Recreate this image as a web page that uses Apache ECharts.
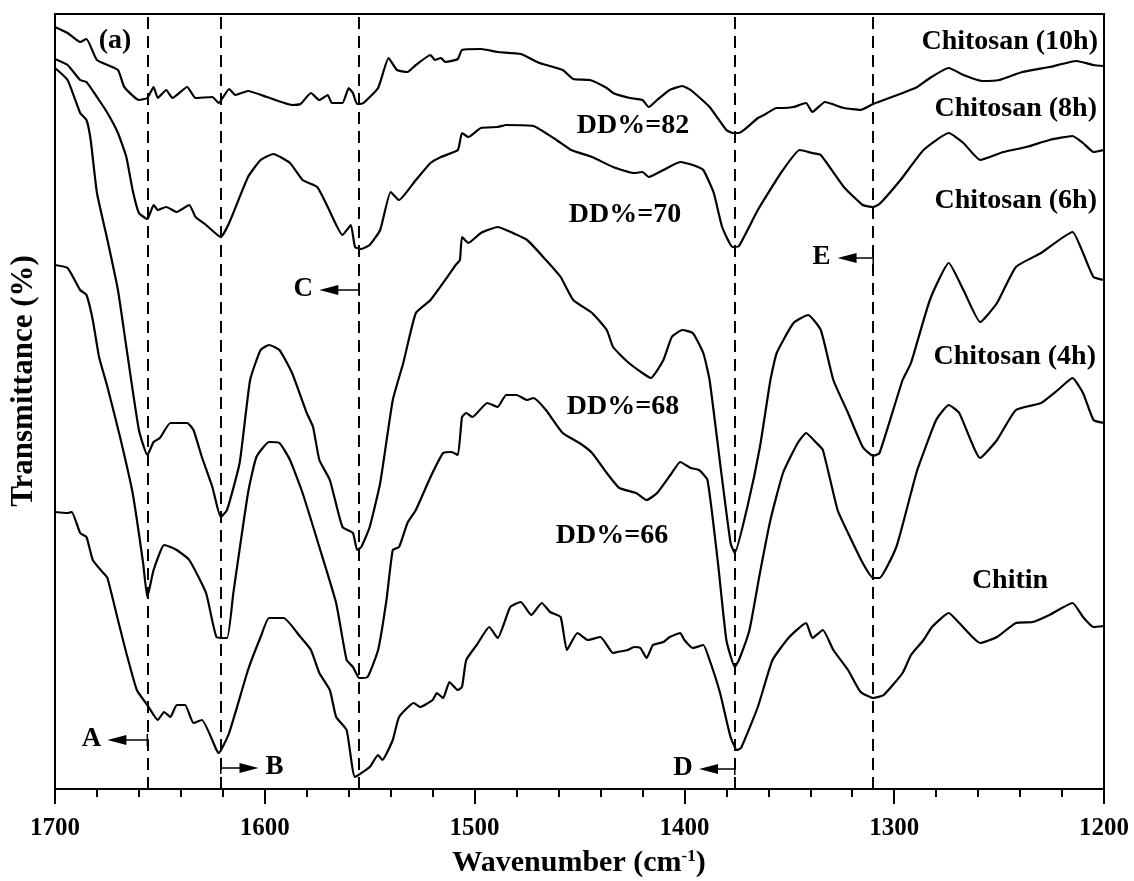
<!DOCTYPE html>
<html>
<head>
<meta charset="utf-8">
<script src="https://cdn.jsdelivr.net/npm/echarts@6/dist/echarts.min.js"></script>
<style>
  html, body { margin: 0; padding: 0; background: #fff; }
  #chart { width: 1134px; height: 881px; }
</style>
</head>
<body>
<div id="chart"></div>
<script>
// spectra: [wavenumber (cm-1), transmittance (a.u., offset)]
const chitosan10h = [[1700,762],[1694,756],[1688,747],[1685,750],[1680,729],[1670,719],[1667,702],[1660,689],[1656,691],[1653,702],[1651,691],[1647,699],[1644,691],[1637,702],[1633,691],[1625,692],[1622,686],[1617,700],[1614,694],[1608,698],[1599,692],[1587,684],[1583,685],[1578,696],[1574,689],[1570,694],[1568,686],[1563,686],[1560,701],[1558,696],[1556,685],[1553,686],[1546,701],[1541,731],[1537,719],[1532,717],[1528,724],[1521,734],[1519,729],[1516,731],[1514,727],[1508,730],[1506,739],[1497,740],[1489,737],[1478,735],[1469,726],[1458,719],[1453,710],[1445,709],[1437,701],[1434,696],[1426,691],[1420,689],[1417,682],[1413,689],[1407,699],[1401,703],[1397,699],[1388,682],[1380,659],[1377,656],[1374,656],[1365,671],[1362,674],[1356,681],[1353,681],[1348,682],[1342,686],[1339,677],[1333,687],[1324,681],[1316,679],[1310,685],[1301,692],[1289,702],[1283,711],[1274,721],[1267,714],[1258,708],[1250,709],[1239,717],[1226,722],[1213,728],[1205,724],[1200,723]]

const chitosan8h = [[1700,730],[1694,724],[1688,709],[1685,707],[1680,692],[1675,676],[1670,656],[1666,632],[1663,599],[1660,576],[1656,570],[1653,584],[1651,579],[1647,582],[1642,577],[1636,584],[1633,572],[1628,564],[1621,552],[1617,566],[1608,612],[1602,629],[1596,635],[1588,626],[1582,609],[1575,602],[1570,582],[1563,554],[1559,564],[1557,542],[1554,540],[1550,544],[1545,559],[1540,597],[1536,589],[1528,609],[1521,626],[1516,632],[1508,639],[1506,656],[1503,652],[1497,661],[1489,662],[1485,664],[1472,663],[1461,649],[1454,639],[1444,632],[1434,622],[1424,616],[1420,617],[1417,612],[1410,619],[1402,627],[1396,624],[1391,619],[1386,596],[1382,562],[1377,542],[1374,543],[1365,579],[1354,616],[1345,639],[1339,636],[1335,634],[1324,602],[1315,584],[1310,582],[1307,585],[1297,609],[1286,639],[1274,656],[1267,646],[1259,629],[1248,637],[1237,642],[1226,649],[1215,653],[1210,646],[1205,637],[1200,639]]

const chitosan6h = [[1700,721],[1694,709],[1688,676],[1685,669],[1683,649],[1680,596],[1675,549],[1670,499],[1666,442],[1660,359],[1656,334],[1653,347],[1650,351],[1645,366],[1637,366],[1634,359],[1630,332],[1625,302],[1621,272],[1618,279],[1612,326],[1607,409],[1602,439],[1598,444],[1593,439],[1587,416],[1580,376],[1577,362],[1574,329],[1569,309],[1563,262],[1558,256],[1556,239],[1554,242],[1550,262],[1545,306],[1539,389],[1534,426],[1528,476],[1521,489],[1513,512],[1509,524],[1507,529],[1506,552],[1503,546],[1497,556],[1489,562],[1485,559],[1475,549],[1466,529],[1459,512],[1453,489],[1444,476],[1437,459],[1434,442],[1427,427],[1420,416],[1416,411],[1410,429],[1406,452],[1401,459],[1396,456],[1391,436],[1388,409],[1383,326],[1378,246],[1376,236],[1370,282],[1364,342],[1359,409],[1356,436],[1348,466],[1341,474],[1335,459],[1329,409],[1322,376],[1315,342],[1310,333],[1307,336],[1296,409],[1292,426],[1283,489],[1274,526],[1267,499],[1259,467],[1251,486],[1242,522],[1230,536],[1215,557],[1210,536],[1205,512],[1200,509]]

const chitosan4h = [[1700,524],[1694,521],[1688,499],[1685,494],[1682,469],[1679,432],[1675,402],[1669,352],[1663,296],[1658,226],[1656,192],[1653,219],[1648,244],[1645,242],[1642,239],[1636,229],[1628,196],[1623,152],[1618,151],[1615,196],[1608,296],[1604,332],[1598,347],[1593,346],[1588,329],[1582,296],[1574,242],[1566,186],[1561,129],[1558,122],[1555,111],[1551,112],[1546,139],[1542,189],[1539,239],[1536,242],[1532,266],[1528,279],[1521,312],[1515,336],[1511,337],[1508,334],[1506,372],[1504,376],[1501,372],[1494,386],[1489,382],[1485,394],[1480,394],[1475,389],[1472,391],[1466,379],[1458,356],[1450,346],[1444,336],[1437,316],[1431,301],[1423,296],[1418,289],[1413,296],[1406,316],[1402,327],[1397,321],[1393,319],[1389,309],[1384,226],[1380,149],[1376,122],[1374,129],[1369,159],[1364,216],[1359,269],[1353,316],[1346,346],[1342,356],[1337,346],[1334,339],[1327,279],[1322,256],[1315,226],[1310,211],[1307,211],[1299,242],[1292,296],[1289,319],[1280,369],[1274,384],[1269,376],[1259,331],[1251,349],[1242,379],[1230,386],[1222,399],[1215,411],[1210,396],[1205,369],[1200,366]]

const chitin = [[1700,277],[1694,276],[1692,277],[1688,256],[1685,252],[1682,229],[1677,216],[1675,211],[1670,169],[1666,136],[1661,99],[1656,84],[1651,69],[1648,77],[1645,72],[1642,84],[1638,84],[1634,66],[1630,69],[1623,39],[1622,36],[1617,56],[1608,119],[1602,152],[1598,171],[1591,171],[1583,152],[1578,139],[1574,116],[1569,99],[1566,72],[1561,59],[1557,12],[1550,22],[1546,34],[1544,29],[1539,49],[1536,72],[1529,86],[1526,82],[1520,89],[1518,96],[1515,91],[1512,107],[1508,99],[1506,102],[1504,129],[1499,144],[1493,162],[1489,151],[1483,182],[1478,187],[1473,174],[1468,186],[1464,177],[1459,172],[1456,139],[1451,156],[1446,149],[1440,152],[1434,136],[1432,137],[1427,139],[1424,142],[1421,141],[1418,131],[1415,144],[1410,147],[1407,152],[1402,156],[1400,149],[1396,141],[1391,144],[1388,129],[1383,96],[1378,52],[1375,39],[1373,41],[1365,82],[1358,129],[1350,152],[1342,166],[1339,151],[1334,159],[1329,139],[1322,119],[1316,97],[1310,91],[1305,94],[1296,116],[1292,134],[1286,149],[1282,162],[1274,176],[1269,166],[1259,146],[1251,152],[1242,166],[1234,167],[1226,174],[1215,186],[1210,172],[1205,162],[1200,163]]

const spectra = [chitosan10h, chitosan8h, chitosan6h, chitosan4h, chitin]
const sampleNames = ['Chitosan (10h)', 'Chitosan (8h)', 'Chitosan (6h)', 'Chitosan (4h)', 'Chitin']
const ddValues = ['DD%=82', 'DD%=70', 'DD%=68', 'DD%=66']

// band positions (dashed guides) and their letter markers
const bandCenters = [1656, 1621, 1555, 1376, 1310]
const bandLetters = ['A', 'B', 'C', 'D', 'E']
const bandArrowTips = [1675, 1603, 1574, 1393, 1327]
const bandArrowLevels = [49, 21, 499, 20, 531]

const FONT = '"Liberation Serif", "Times New Roman", serif'
const boldFont = size => `bold ${size}px ${FONT}`

// label placement (pixels)
const nameSpots = [
  { x: 1098, y: 42, align: 'right' },
  { x: 1097, y: 109, align: 'right' },
  { x: 1097, y: 201, align: 'right' },
  { x: 1096, y: 357, align: 'right' },
  { x: 1010, y: 581, align: 'center' }
]
const ddSpots = [
  { x: 633, y: 126 },
  { x: 625, y: 215 },
  { x: 623, y: 407 },
  { x: 612, y: 536 }
]

const chart = echarts.init(document.getElementById('chart'))

const option = {
  animation: false,
  backgroundColor: '#fff',
  grid: {
    left: 55,
    right: 30,
    top: 14,
    bottom: 92,
    show: true,
    borderColor: '#000',
    borderWidth: 2
  },
  xAxis: {
    type: 'value',
    min: 1200,
    max: 1700,
    interval: 100,
    inverse: true,
    axisLine: { show: true, lineStyle: { color: '#000', width: 2 } },
    axisTick: { show: true, length: 15, lineStyle: { color: '#000', width: 2 } },
    minorTick: { show: true, splitNumber: 5, length: 8, lineStyle: { color: '#000', width: 2 } },
    axisLabel: {
      color: '#000',
      fontFamily: FONT,
      fontWeight: 'bold',
      fontSize: 25,
      margin: 27,
      formatter: v => String(v)
    },
    splitLine: { show: false }
  },
  yAxis: {
    type: 'value',
    min: 0,
    max: 775,
    axisLine: { show: true, lineStyle: { color: '#000', width: 2 } },
    axisTick: { show: false },
    axisLabel: { show: false },
    splitLine: { show: false }
  },
  series: spectra.map((data, i) => ({
    name: sampleNames[i],
    type: 'line',
    data: data,
    showSymbol: false,
    smooth: 0.15,
    lineStyle: { color: '#000', width: 2.2 },
    markLine: i === 0 ? {
      silent: true,
      symbol: ['none', 'none'],
      label: { show: false },
      lineStyle: { color: '#000', type: [12, 7], width: 2 },
      data: bandCenters.map(w => ({ xAxis: w }))
    } : undefined
  }))
}

chart.setOption(option)

const toPx = (w, v) => chart.convertToPixel({ gridIndex: 0 }, [w, v])
const graphics = []

// A-E arrows pointing away from the dashed band lines
bandLetters.forEach((letter, i) => {
  const [x0, y0] = toPx(bandCenters[i], bandArrowLevels[i])
  const [x1] = toPx(bandArrowTips[i], bandArrowLevels[i])
  const dir = Math.sign(x1 - x0)
  graphics.push({
    type: 'line',
    shape: { x1: x0, y1: y0 - 6, x2: x0, y2: y0 + 6 },
    style: { stroke: '#000', lineWidth: 1.5 }
  })
  graphics.push({
    type: 'line',
    shape: { x1: x0, y1: y0, x2: x1 - dir * 12, y2: y0 },
    style: { stroke: '#000', lineWidth: 1.5 }
  })
  graphics.push({
    type: 'polygon',
    shape: { points: [[x1, y0], [x1 - dir * 19, y0 - 5], [x1 - dir * 19, y0 + 5]] },
    style: { fill: '#000' }
  })
  graphics.push({
    type: 'text',
    x: x1 + dir * 16,
    y: y0 - 1,
    style: { text: letter, font: boldFont(27), fill: '#000', textAlign: 'center', textVerticalAlign: 'middle' }
  })
})

sampleNames.forEach((name, i) => {
  graphics.push({
    type: 'text',
    x: nameSpots[i].x,
    y: nameSpots[i].y,
    style: { text: name, font: boldFont(28), fill: '#000', textAlign: nameSpots[i].align, textVerticalAlign: 'middle' }
  })
})

ddValues.forEach((dd, i) => {
  graphics.push({
    type: 'text',
    x: ddSpots[i].x,
    y: ddSpots[i].y,
    style: { text: dd, font: boldFont(28), fill: '#000', textAlign: 'center', textVerticalAlign: 'middle' }
  })
})

graphics.push({
  type: 'text',
  x: 115,
  y: 41,
  style: { text: '(a)', font: boldFont(28), fill: '#000', textAlign: 'center', textVerticalAlign: 'middle' }
})

// axis titles
graphics.push({
  type: 'text',
  x: 579,
  y: 863,
  style: {
    text: '{m|Wavenumber (cm}{s|-1}{m|)}',
    textAlign: 'center',
    textVerticalAlign: 'middle',
    fill: '#000',
    rich: {
      m: { font: boldFont(30), fill: '#000', lineHeight: 34 },
      s: { font: boldFont(17), fill: '#000', lineHeight: 34, verticalAlign: 'top', padding: [2, 0, 0, 0] }
    }
  }
})

graphics.push({
  type: 'text',
  x: 24,
  y: 381,
  rotation: Math.PI / 2,
  style: { text: 'Transmittance (%)', font: boldFont(31), fill: '#000', textAlign: 'center', textVerticalAlign: 'middle' }
})

chart.setOption({ graphic: graphics })
</script>
</body>
</html>
